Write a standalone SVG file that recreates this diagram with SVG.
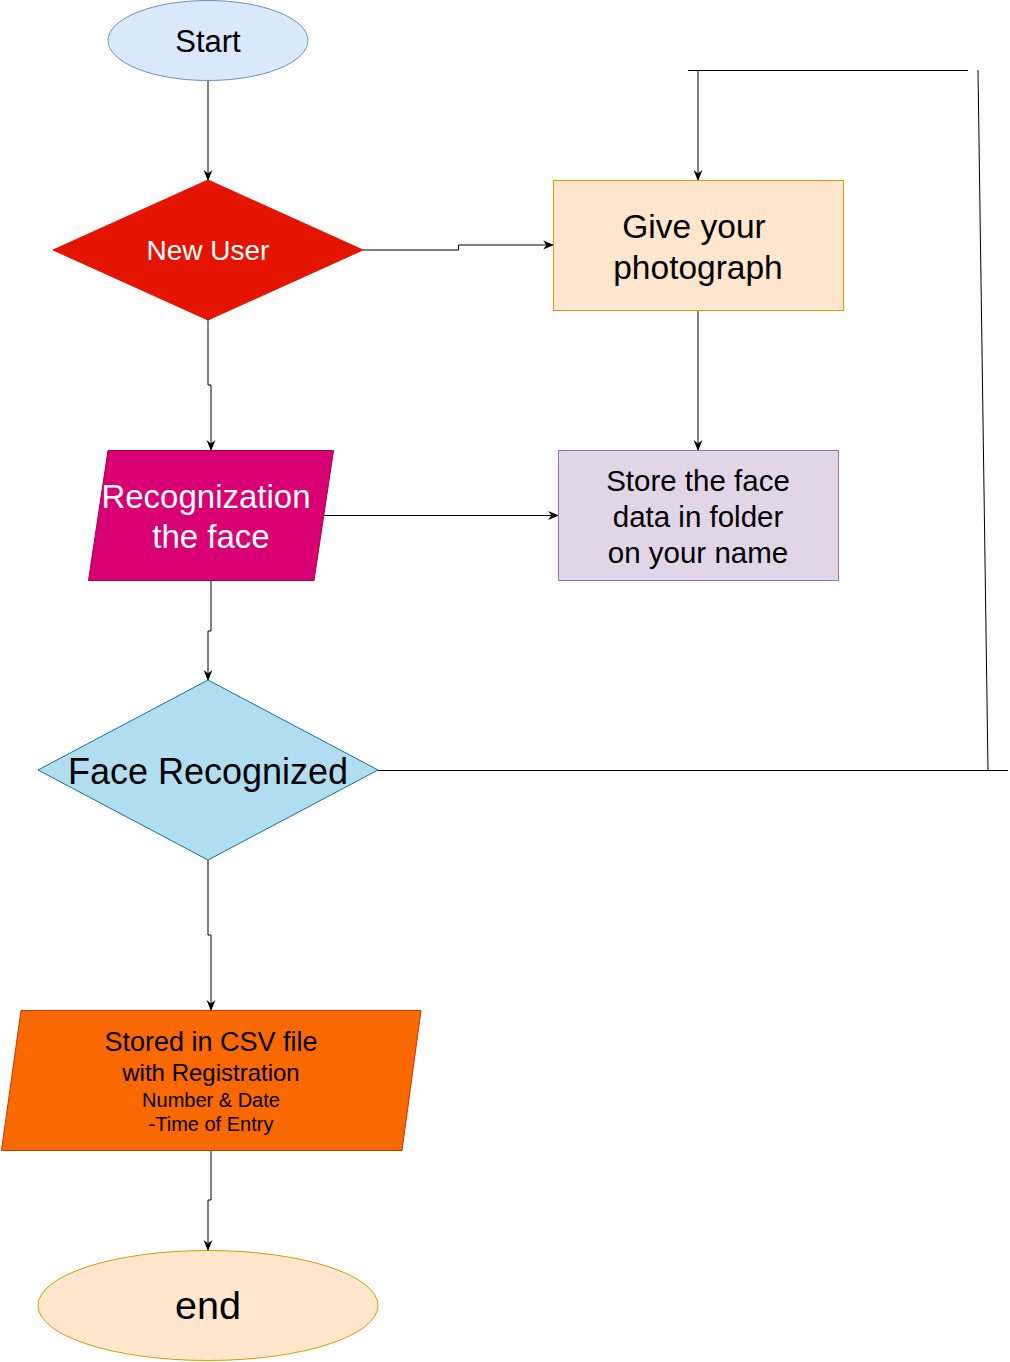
<svg xmlns="http://www.w3.org/2000/svg" width="1010" height="1362" viewBox="0 0 1010 1362">
<style>
text{font-family:"Liberation Sans",Arial,sans-serif;text-anchor:middle}
.ln{fill:none;stroke:#000;stroke-width:1}
.arr{marker-end:url(#ah)}
</style>
<defs>
<marker id="ah" viewBox="0 0 10 10" refX="9" refY="5" markerWidth="11" markerHeight="11" markerUnits="userSpaceOnUse" orient="auto">
<path d="M0,1 L10,5 L0,9 L3,5 Z" fill="#000"/>
</marker>
</defs>
<rect width="1010" height="1362" fill="#fff"/>
<g id="connectors">
<path class="ln arr" d="M208,80 V180"/>
<path class="ln arr" d="M363,250 H458.5 V245 H553"/>
<path class="ln arr" d="M698,310 V450"/>
<path class="ln arr" d="M208,320 V385 H211 V450"/>
<path class="ln arr" d="M324,515.5 H558"/>
<path class="ln arr" d="M211,580 V631 H208 V680"/>
<path class="ln arr" d="M208,860 V935 H211 V1010"/>
<path class="ln arr" d="M211,1150 V1200 H208 V1250"/>
<path class="ln" d="M378,770.5 H1008"/>
<path class="ln" d="M988,770 L978,70"/>
<path class="ln" d="M688,70.5 H968"/>
<path class="ln arr" d="M698,70 V180"/>
</g>
<g id="start">
<ellipse cx="208" cy="40.5" rx="100" ry="40" fill="#dae8fc" stroke="#6c8ebf"/>
<text x="208" y="52" font-size="31">Start</text>
</g>
<g id="new-user">
<polygon points="53,250 208,180 363,250 208,320" fill="#e51400" stroke="#e51400"/>
<text x="208" y="260" font-size="28" fill="#fff">New User</text>
</g>
<g id="give-photograph">
<rect x="553.5" y="180.5" width="290" height="130" fill="#ffe6cc" stroke="#d79b00"/>
<text x="698" y="238" font-size="33.5"><tspan x="694">Give your</tspan><tspan x="698" y="279">photograph</tspan></text>
</g>
<g id="store-face">
<rect x="558.5" y="450.5" width="280" height="130" fill="#e1d5e7" stroke="#9673a6"/>
<text x="698" y="491" font-size="29.5">Store the face<tspan x="698" y="527">data in folder</tspan><tspan x="698" y="563">on your name</tspan></text>
</g>
<g id="recognization">
<polygon points="108,450.5 333.5,450.5 314,580.5 88.5,580.5" fill="#d80073" stroke="#a50040"/>
<text x="206" y="508" font-size="33" fill="#fff">Recognization<tspan x="211" y="548">the face</tspan></text>
</g>
<g id="face-recognized">
<polygon points="38,770 208,680 378,770 208,860" fill="#b1ddf0" stroke="#10739e"/>
<text x="208" y="784" font-size="36">Face Recognized</text>
</g>
<g id="stored-csv">
<polygon points="21,1010.5 421,1010.5 402,1150.5 1.5,1150.5" fill="#fa6800" stroke="#c73500"/>
<text x="211" y="1051" font-size="27">Stored in CSV file</text>
<text x="211" y="1081" font-size="24">with Registration</text>
<text x="211" y="1107" font-size="20">Number &amp; Date</text>
<text x="211" y="1131" font-size="20">-Time of Entry</text>
</g>
<g id="end">
<ellipse cx="208" cy="1305.5" rx="170" ry="55" fill="#ffe6cc" stroke="#d79b00"/>
<text x="208" y="1319" font-size="39.5">end</text>
</g>
</svg>
